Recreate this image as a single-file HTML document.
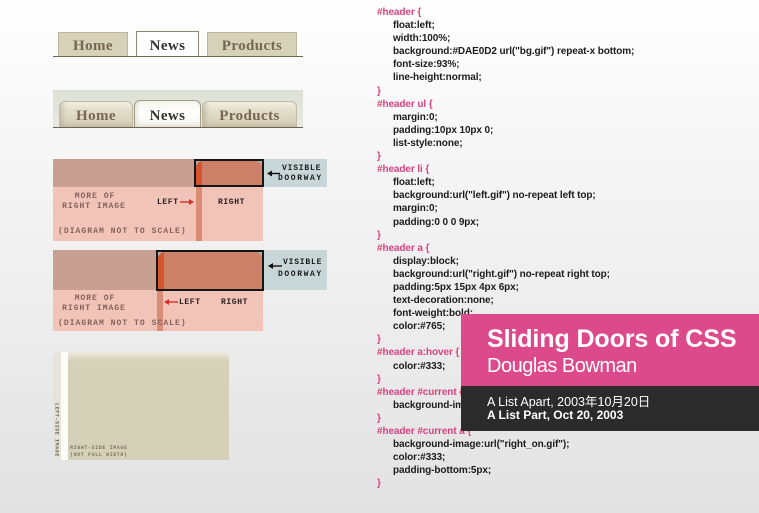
<!DOCTYPE html>
<html><head><meta charset="utf-8">
<style>
*{margin:0;padding:0;box-sizing:border-box}
html,body{width:759px;height:513px;overflow:hidden}
body{position:relative;background:linear-gradient(#fefefe 0%,#f3f3f3 40%,#e2e2e2 100%);font-family:"Liberation Sans",sans-serif}
.a{position:absolute}
.t1{position:absolute;top:32px;height:25px;background:#d6d1b9;border:1px solid #bcb69c;border-bottom:none;font-family:"Liberation Serif",serif;font-weight:bold;font-size:15px;color:#776655;text-align:center;line-height:27px;letter-spacing:0.4px}
.t2{position:absolute;top:101px;height:27px;border:1px solid #c0baa3;border-bottom:none;border-radius:6px 6px 0 0;background:linear-gradient(#f1efe5 0%,#e2ddca 35%,#d3cdb6 100%);box-shadow:inset 3px -3px 5px rgba(150,140,110,0.35);font-family:"Liberation Serif",serif;font-weight:bold;font-size:15px;color:#776655;text-align:center;line-height:29px;letter-spacing:0.4px}
.code{position:absolute;left:377px;top:6px;font-size:10px;font-weight:bold;line-height:13.1px;letter-spacing:-0.1px;color:#1c1c1c;white-space:pre}
.s{color:#d8437f}
.i{padding-left:16px}
.px{position:absolute;font-family:"Liberation Mono",monospace;font-weight:bold;font-size:8px;line-height:10px;letter-spacing:1px;white-space:pre;color:#85625b}
.dk{color:#2a2020;letter-spacing:0.6px}
.bk{color:#1a1a1a}
.box{position:absolute;border:2px solid #151515;background:#b7aca6;overflow:hidden}
.inner{position:absolute;left:0;top:0;right:0;bottom:0;background:#cd8068;border-radius:7px 7px 0 0;overflow:hidden}
.stripe{position:absolute;left:0;top:0;width:6px;height:100%;background:#d5542e}
.tiny{position:absolute;font-family:"Liberation Mono",monospace;font-weight:bold;font-size:5px;line-height:6px;letter-spacing:0.6px;color:#7d7765;white-space:pre}
</style></head><body>

<!-- Tabs set 1 -->
<div class="t1" style="left:58px;width:70px;">Home</div>
<div class="t1" style="left:136px;top:31px;height:26px;width:63px;background:#fff;border-color:#8d8574;color:#333;line-height:29px;">News</div>
<div class="t1" style="left:207px;width:90px;">Products</div>
<div class="a" style="left:53px;top:56px;width:250px;height:1px;background:#6e6452"></div>

<!-- Tabs set 2 -->
<div class="a" style="left:53px;top:90px;width:250px;height:38px;background:linear-gradient(#dde0d4,#e8eae2)"></div>
<div class="t2" style="left:59px;width:74px;">Home</div>
<div class="t2" style="left:134px;top:100px;height:28px;width:67px;background:linear-gradient(#f6f5f0 0%,#ffffff 45%,#f2f1ea 100%);border-color:#a39c88;box-shadow:inset 2px -2px 4px rgba(160,150,120,0.25);color:#333;line-height:31px;">News</div>
<div class="t2" style="left:202px;width:95px;">Products</div>
<div class="a" style="left:53px;top:127px;width:250px;height:1px;background:#6d6450"></div>

<!-- Diagram 1 -->
<div class="a" style="left:53px;top:159px;width:210px;height:28px;background:#c8a091"></div>
<div class="a" style="left:53px;top:187px;width:210px;height:54px;background:#f2c4b8"></div>
<div class="a" style="left:196px;top:187px;width:6px;height:54px;background:#da8c76"></div>
<div class="a" style="left:264px;top:159px;width:63px;height:28px;background:#c8d6d8"></div>
<div class="box" style="left:194px;top:159px;width:70px;height:28px;"><div class="inner"><div class="stripe" style="border-radius:6px 0 0 0"></div></div></div>
<div class="px bk" style="left:282px;top:163.5px;letter-spacing:0.8px">VISIBLE</div>
<div class="px bk" style="left:278px;top:173.5px;letter-spacing:1.6px">DOORWAY</div>
<div class="px" style="left:45px;width:100px;text-align:center;top:191.5px">MORE OF</div>
<div class="px" style="left:44px;width:100px;text-align:center;top:201.5px">RIGHT IMAGE</div>
<div class="px dk" style="left:157px;top:197.5px">LEFT</div>
<div class="px dk" style="left:218px;top:197.5px">RIGHT</div>
<div class="px" style="left:58px;top:226.5px;letter-spacing:1.05px">(DIAGRAM NOT TO SCALE)</div>

<!-- Diagram 2 -->
<div class="a" style="left:53px;top:250px;width:210px;height:40px;background:#c8a091"></div>
<div class="a" style="left:53px;top:290px;width:210px;height:41px;background:#f2c4b8"></div>
<div class="a" style="left:157px;top:290px;width:6px;height:41px;background:#da8c76"></div>
<div class="a" style="left:264px;top:250px;width:63px;height:40px;background:#c8d6d8"></div>
<div class="box" style="left:156px;top:250px;width:108px;height:41px;"><div class="inner"><div class="stripe" style="border-radius:6px 0 0 0"></div></div></div>
<div class="px bk" style="left:283px;top:258px;letter-spacing:0.8px">VISIBLE</div>
<div class="px bk" style="left:278px;top:269.5px;letter-spacing:1.6px">DOORWAY</div>
<div class="px" style="left:45px;width:100px;text-align:center;top:293.5px">MORE OF</div>
<div class="px" style="left:44px;width:100px;text-align:center;top:303.5px">RIGHT IMAGE</div>
<div class="px dk" style="left:179px;top:297.5px">LEFT</div>
<div class="px dk" style="left:221px;top:297.5px">RIGHT</div>
<div class="px" style="left:58px;top:318.5px;letter-spacing:1.05px">(DIAGRAM NOT TO SCALE)</div>

<!-- Arrows -->
<svg class="a" style="left:0;top:0" width="759" height="513" viewBox="0 0 759 513">
  <g stroke="#111" stroke-width="1.4" fill="#111">
    <line x1="271" y1="173.5" x2="280" y2="173.5"/>
    <polygon points="267,173.5 272,170.5 272,176.5" stroke="none"/>
    <line x1="272" y1="266" x2="282" y2="266"/>
    <polygon points="268,266 273,263 273,269" stroke="none"/>
  </g>
  <g stroke="#d6302a" stroke-width="1.4" fill="#d6302a">
    <line x1="180" y1="202" x2="190" y2="202"/>
    <polygon points="194,202 189,199 189,205" stroke="none"/>
    <line x1="168" y1="302" x2="178" y2="302"/>
    <polygon points="164,302 169,299 169,305" stroke="none"/>
  </g>
</svg>

<!-- Bottom image -->
<div class="a" style="left:53px;top:352px;width:176px;height:108px;background:#d5d0b8;border-radius:6px 6px 0 0;overflow:hidden">
  <div class="a" style="left:14px;top:0;width:162px;height:9px;background:linear-gradient(#ece9de,#d5d0b8)"></div>
  <div class="a" style="left:0;top:0;width:8px;height:108px;background:#e6e4da"></div>
  <div class="a" style="left:8px;top:0;width:7px;height:108px;background:#fbfbf8"></div>
</div>
<div class="tiny" style="left:53.5px;top:403px;writing-mode:vertical-rl;color:#6a6555">LEFT-SIDE IMAGE</div>
<div class="tiny" style="left:70px;top:444.5px">RIGHT-SIDE IMAGE</div>
<div class="tiny" style="left:70px;top:451.5px">(NOT FULL WIDTH)</div>

<!-- Code -->
<div class="code"><div class="s">#header {</div><div class="i">float:left;</div><div class="i">width:100%;</div><div class="i">background:#DAE0D2 url("bg.gif") repeat-x bottom;</div><div class="i">font-size:93%;</div><div class="i">line-height:normal;</div><div class="s">}</div><div class="s">#header ul {</div><div class="i">margin:0;</div><div class="i">padding:10px 10px 0;</div><div class="i">list-style:none;</div><div class="s">}</div><div class="s">#header li {</div><div class="i">float:left;</div><div class="i">background:url("left.gif") no-repeat left top;</div><div class="i">margin:0;</div><div class="i">padding:0 0 0 9px;</div><div class="s">}</div><div class="s">#header a {</div><div class="i">display:block;</div><div class="i">background:url("right.gif") no-repeat right top;</div><div class="i">padding:5px 15px 4px 6px;</div><div class="i">text-decoration:none;</div><div class="i">font-weight:bold;</div><div class="i">color:#765;</div><div class="s">}</div><div class="s">#header a:hover {</div><div class="i">color:#333;</div><div class="s">}</div><div class="s">#header #current {</div><div class="i">background-image:url("left_on.gif");</div><div class="s">}</div><div class="s">#header #current a {</div><div class="i">background-image:url("right_on.gif");</div><div class="i">color:#333;</div><div class="i">padding-bottom:5px;</div><div class="s">}</div></div>

<!-- Banner -->
<div class="a" style="left:461px;top:314px;width:298px;height:72px;background:#dd4a8b"></div>
<div class="a" style="left:461px;top:386px;width:298px;height:45px;background:#2b2b2b"></div>
<div class="a" style="left:487px;top:326.8px;font-size:25px;line-height:25px;font-weight:bold;color:#fff;letter-spacing:-0.1px;white-space:nowrap">Sliding Doors of CSS</div>
<div class="a" style="left:487px;top:356px;font-size:20px;line-height:20px;color:#fff;letter-spacing:-0.5px;white-space:nowrap">Douglas Bowman</div>
<div class="a" style="left:487px;top:396.4px;font-size:12.5px;line-height:12.5px;color:#fff;white-space:nowrap;font-family:'Liberation Sans','Noto Sans CJK JP',sans-serif">A List Apart, 2003年10月20日</div>
<div class="a" style="left:487px;top:408.8px;font-size:12px;line-height:12px;font-weight:bold;color:#fff;white-space:nowrap">A List Part, Oct 20, 2003</div>

</body></html>
